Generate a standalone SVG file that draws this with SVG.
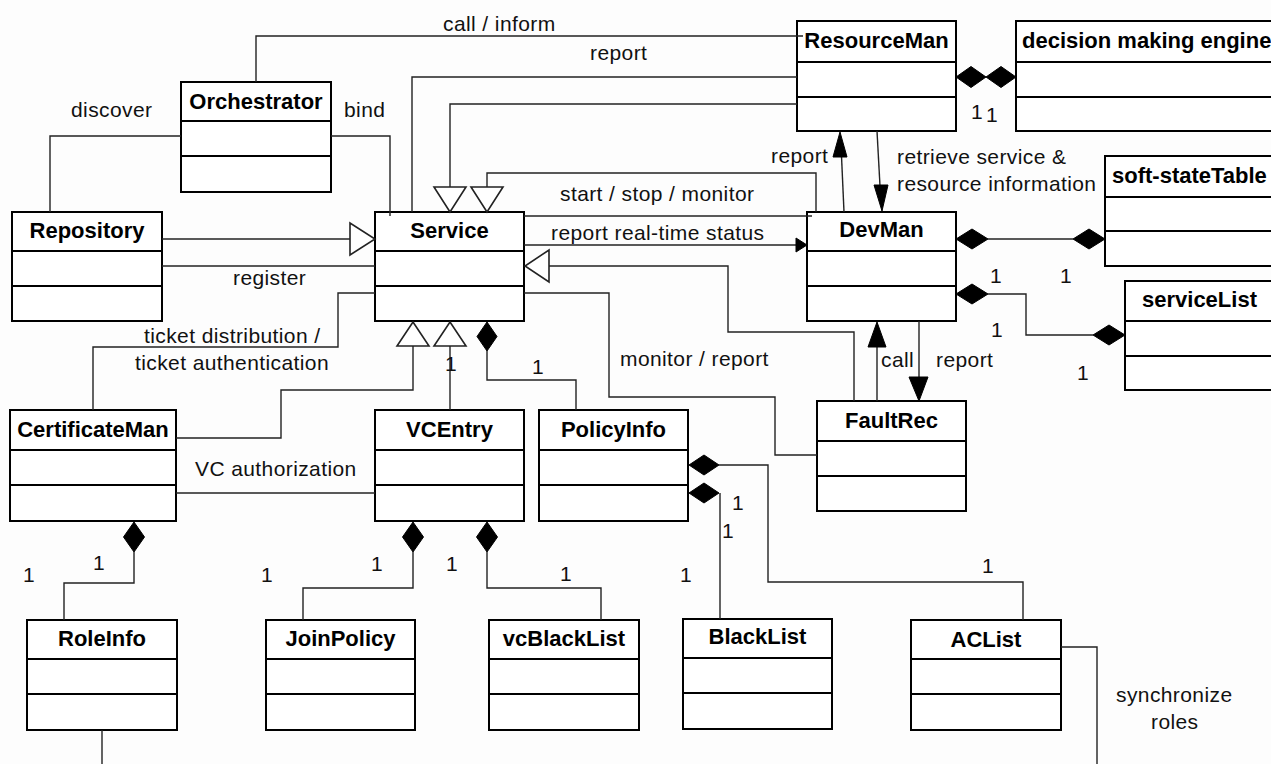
<svg xmlns="http://www.w3.org/2000/svg" width="1271" height="764" viewBox="0 0 1271 764">
  <style>
    .box rect { fill: #ffffff; stroke: #000000; stroke-width: 2; }
    .box line { stroke: #000000; stroke-width: 2; }
    .title { font-family: "Liberation Sans", Arial, sans-serif; font-weight: bold; font-size: 22px; fill: #000000; text-anchor: middle; }
    .title.start { text-anchor: start; }
    .lbl { font-family: "Liberation Sans", Arial, sans-serif; font-size: 21px; letter-spacing: 0.4px; fill: #111111; }
    .wire { fill: none; stroke: #222222; stroke-width: 1.4; }
    .hollow { fill: #ffffff; stroke: #222222; stroke-width: 1.6; }
    .solid { fill: #000000; stroke: #000000; stroke-width: 1; }
  </style>

  <rect x="0" y="0" width="1271" height="764" fill="#fdfdfd"/>

  <!-- class boxes: name compartment, attributes, operations -->
  <g id="orchestrator" class="box">
    <rect x="181" y="82" width="150" height="110"/>
    <line x1="181" y1="121" x2="331" y2="121"/><line x1="181" y1="156" x2="331" y2="156"/>
    <text class="title" x="256" y="109">Orchestrator</text>
  </g>
  <g id="repository" class="box">
    <rect x="12" y="212" width="150" height="109"/>
    <line x1="12" y1="251" x2="162" y2="251"/><line x1="12" y1="286" x2="162" y2="286"/>
    <text class="title" x="87" y="238">Repository</text>
  </g>
  <g id="service" class="box">
    <rect x="375" y="212" width="149" height="109"/>
    <line x1="375" y1="251" x2="524" y2="251"/><line x1="375" y1="286" x2="524" y2="286"/>
    <text class="title" x="449.5" y="238">Service</text>
  </g>
  <g id="resourceman" class="box">
    <rect x="797" y="21" width="159" height="110"/>
    <line x1="797" y1="62" x2="956" y2="62"/><line x1="797" y1="97" x2="956" y2="97"/>
    <text class="title" x="876.5" y="48">ResourceMan</text>
  </g>
  <g id="decision-engine" class="box">
    <rect x="1016" y="21" width="280" height="110"/>
    <line x1="1016" y1="62" x2="1296" y2="62"/><line x1="1016" y1="97" x2="1296" y2="97"/>
    <text class="title start" x="1022" y="48">decision making engine</text>
  </g>
  <g id="devman" class="box">
    <rect x="807" y="212" width="149" height="109"/>
    <line x1="807" y1="251" x2="956" y2="251"/><line x1="807" y1="286" x2="956" y2="286"/>
    <text class="title" x="881.5" y="237">DevMan</text>
  </g>
  <g id="soft-state-table" class="box">
    <rect x="1105" y="156" width="190" height="110"/>
    <line x1="1105" y1="197" x2="1295" y2="197"/><line x1="1105" y1="231" x2="1295" y2="231"/>
    <text class="title start" x="1112" y="183">soft-stateTable</text>
  </g>
  <g id="service-list" class="box">
    <rect x="1125" y="281" width="170" height="109"/>
    <line x1="1125" y1="321" x2="1295" y2="321"/><line x1="1125" y1="356" x2="1295" y2="356"/>
    <text class="title start" x="1142" y="307">serviceList</text>
  </g>
  <g id="faultrec" class="box">
    <rect x="817" y="401" width="149" height="110"/>
    <line x1="817" y1="441" x2="966" y2="441"/><line x1="817" y1="476" x2="966" y2="476"/>
    <text class="title" x="891.5" y="428">FaultRec</text>
  </g>
  <g id="certificateman" class="box">
    <rect x="10" y="410" width="166" height="111"/>
    <line x1="10" y1="450" x2="176" y2="450"/><line x1="10" y1="485" x2="176" y2="485"/>
    <text class="title" x="93" y="437">CertificateMan</text>
  </g>
  <g id="vcentry" class="box">
    <rect x="375" y="410" width="149" height="111"/>
    <line x1="375" y1="450" x2="524" y2="450"/><line x1="375" y1="485" x2="524" y2="485"/>
    <text class="title" x="449.5" y="437">VCEntry</text>
  </g>
  <g id="policyinfo" class="box">
    <rect x="539" y="410" width="149" height="111"/>
    <line x1="539" y1="450" x2="688" y2="450"/><line x1="539" y1="485" x2="688" y2="485"/>
    <text class="title" x="613.5" y="437">PolicyInfo</text>
  </g>
  <g id="roleinfo" class="box">
    <rect x="27" y="620" width="150" height="110"/>
    <line x1="27" y1="659" x2="177" y2="659"/><line x1="27" y1="694" x2="177" y2="694"/>
    <text class="title" x="102" y="646">RoleInfo</text>
  </g>
  <g id="joinpolicy" class="box">
    <rect x="266" y="620" width="149" height="110"/>
    <line x1="266" y1="659" x2="415" y2="659"/><line x1="266" y1="694" x2="415" y2="694"/>
    <text class="title" x="340.5" y="646">JoinPolicy</text>
  </g>
  <g id="vcblacklist" class="box">
    <rect x="489" y="620" width="150" height="110"/>
    <line x1="489" y1="659" x2="639" y2="659"/><line x1="489" y1="694" x2="639" y2="694"/>
    <text class="title" x="564" y="646">vcBlackList</text>
  </g>
  <g id="blacklist" class="box">
    <rect x="683" y="619" width="149" height="110"/>
    <line x1="683" y1="658" x2="832" y2="658"/><line x1="683" y1="693" x2="832" y2="693"/>
    <text class="title" x="757.5" y="644">BlackList</text>
  </g>
  <g id="aclist" class="box">
    <rect x="911" y="620" width="150" height="110"/>
    <line x1="911" y1="659" x2="1061" y2="659"/><line x1="911" y1="694" x2="1061" y2="694"/>
    <text class="title" x="986" y="647">ACList</text>
  </g>

  <!-- associations, generalizations and compositions -->
  <g id="connectors">
    <!-- plain associations -->
    <path class="wire" d="M256 82 V36 H803"/>
    <path class="wire" d="M797 77 H412 V212"/>
    <path class="wire" d="M524 216 H812"/>
    <path class="wire" d="M162 266 H375"/>
    <path class="wire" d="M50 212 V136 H181"/>
    <path class="wire" d="M331 136 H390 V216"/>
    <path class="wire" d="M375 293 H338 V347 H93 V410"/>
    <path class="wire" d="M176 493 H375"/>
    <path class="wire" d="M524 293 H609 V397 H775 V455 H817"/>
    <path class="wire" d="M1061 647 H1097 V764"/>
    <path class="wire" d="M102 730 V764"/>

    <!-- generalizations (hollow triangles) -->
    <path class="wire" d="M797 104 H450 V187"/>
    <polygon class="hollow" points="434,187 466,187 450,212"/>
    <path class="wire" d="M487 187 V173 H816 V212"/>
    <polygon class="hollow" points="471,187 503,187 487,212"/>
    <path class="wire" d="M549 266 H728 V332 H854 V401"/>
    <polygon class="hollow" points="549,250 549,282 525,266"/>
    <path class="wire" d="M162 239 H350"/>
    <polygon class="hollow" points="350,223 350,255 375,239"/>
    <path class="wire" d="M176 438 H281 V390 H413 V346"/>
    <polygon class="hollow" points="397,346 429,346 413,322"/>
    <path class="wire" d="M450 410 V346"/>
    <polygon class="hollow" points="434,346 466,346 450,322"/>

    <!-- directed messages (filled arrowheads) -->
    <path class="wire" d="M524 245 H797"/>
    <polygon class="solid" points="796,238 807,245 796,252"/>
    <path class="wire" d="M877 401 V346"/>
    <polygon class="solid" points="868,347 886,347 877,322"/>
    <path class="wire" d="M919 321 V378"/>
    <polygon class="solid" points="909,377 928,377 919,401"/>
    <path class="wire" d="M844 212 L841.5 156"/>
    <polygon class="solid" points="833,157 847,157 840,132"/>
    <path class="wire" d="M877 131 L880 186"/>
    <polygon class="solid" points="874,185 888,185 882,211"/>

    <!-- compositions (filled diamonds) -->
    <polygon class="solid" points="956,77 971,66.5 986,77 971,87.5"/>
    <polygon class="solid" points="986,77 1001,66.5 1016,77 1001,87.5"/>
    <path class="wire" d="M988 239 H1073"/>
    <polygon class="solid" points="956,239 972,229 988,239 972,249"/>
    <polygon class="solid" points="1073,239 1089,229 1105,239 1089,249"/>
    <path class="wire" d="M988 294 H1026 V335 H1093"/>
    <polygon class="solid" points="956,294 972,284 988,294 972,304"/>
    <polygon class="solid" points="1093,335 1109,325 1125,335 1109,345"/>
    <path class="wire" d="M487 351 V380 H576 V410"/>
    <polygon class="solid" points="487,322 497,336.5 487,351 477,336.5"/>
    <path class="wire" d="M134 552 V583 H64 V620"/>
    <polygon class="solid" points="134,522 144.5,537 134,552 123.5,537"/>
    <path class="wire" d="M413 552 V588 H303 V620"/>
    <polygon class="solid" points="413,522 423.5,537 413,552 402.5,537"/>
    <path class="wire" d="M487 552 V588 H601 V620"/>
    <polygon class="solid" points="487,522 497.5,537 487,552 476.5,537"/>
    <path class="wire" d="M719 465 H768 V582 H1023 V620"/>
    <polygon class="solid" points="689,465 704,455 719,465 704,475"/>
    <path class="wire" d="M720 493 V619"/>
    <polygon class="solid" points="689,493 704,483 719,493 704,503"/>
  </g>

  <!-- connector labels and multiplicities -->
  <g id="labels">
    <text class="lbl" x="443" y="31">call / inform</text>
    <text class="lbl" x="590" y="60">report</text>
    <text class="lbl" x="71" y="117">discover</text>
    <text class="lbl" x="344" y="117">bind</text>
    <text class="lbl" x="233" y="285">register</text>
    <text class="lbl" x="560" y="201">start / stop / monitor</text>
    <text class="lbl" x="551" y="240">report real-time status</text>
    <text class="lbl" x="771" y="163">report</text>
    <text class="lbl" x="897" y="164">retrieve service &amp;</text>
    <text class="lbl" x="897" y="191">resource information</text>
    <text class="lbl" x="144" y="343">ticket distribution /</text>
    <text class="lbl" x="135" y="370">ticket authentication</text>
    <text class="lbl" x="195" y="476">VC authorization</text>
    <text class="lbl" x="620" y="366">monitor / report</text>
    <text class="lbl" x="881" y="367">call</text>
    <text class="lbl" x="936" y="367">report</text>
    <text class="lbl" x="1116" y="702">synchronize</text>
    <text class="lbl" x="1151" y="729">roles</text>

    <text class="lbl" x="971" y="119">1</text>
    <text class="lbl" x="986" y="122">1</text>
    <text class="lbl" x="990" y="283">1</text>
    <text class="lbl" x="1060" y="283">1</text>
    <text class="lbl" x="991" y="337">1</text>
    <text class="lbl" x="1077" y="380">1</text>
    <text class="lbl" x="445" y="371">1</text>
    <text class="lbl" x="532" y="374">1</text>
    <text class="lbl" x="93" y="570">1</text>
    <text class="lbl" x="23" y="582">1</text>
    <text class="lbl" x="371" y="571">1</text>
    <text class="lbl" x="261" y="582">1</text>
    <text class="lbl" x="446" y="571">1</text>
    <text class="lbl" x="560" y="581">1</text>
    <text class="lbl" x="732" y="510">1</text>
    <text class="lbl" x="722" y="538">1</text>
    <text class="lbl" x="680" y="582">1</text>
    <text class="lbl" x="982" y="573">1</text>
  </g>
</svg>
